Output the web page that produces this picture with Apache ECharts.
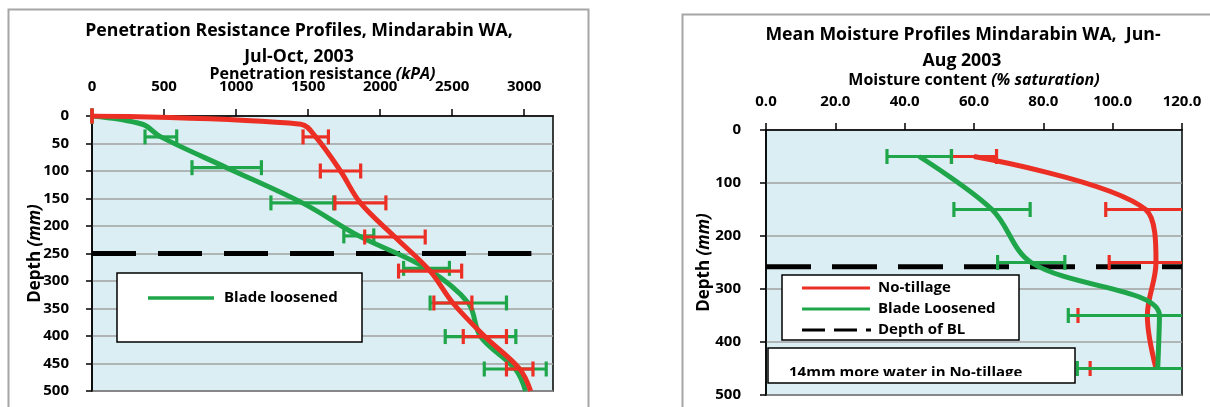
<!DOCTYPE html>
<html>
<head>
<meta charset="utf-8">
<script src="https://cdn.jsdelivr.net/npm/echarts@6/dist/echarts.min.js"></script>
<style>
  html, body { margin: 0; padding: 0; background: #fff; }
  #chart { width: 1210px; height: 407px; }
</style>
</head>
<body>
<div id="chart"></div>
<script>
// penetration resistance (kPa), depth in mm
let prDepthNT = [0, 38, 100, 158, 220, 282, 340, 401, 460]
let prMeanNT = [0, 1553, 1725, 1863, 2103, 2347, 2505, 2727, 2969]
let prErrNT = [0, 88, 140, 177, 210, 219, 132, 150, 92]
// points on the curve that have no error bar
let prLineDepthNT = [15, 500]
let prLineValNT = [1450, 3045]

let prDepthBL = [0, 38, 94, 158, 218, 277, 340, 401, 460]
let prMeanBL = [0, 478, 935, 1460, 1852, 2322, 2612, 2697, 2938]
let prErrBL = [0, 110, 241, 218, 104, 159, 265, 245, 215]
let prLineDepthBL = [15, 500]
let prLineValBL = [350, 3010]

// moisture (% saturation)
let mcDepth = [50, 150, 250, 350, 450]
let mcMeanNT = [60, 109.5, 112.5, 110, 112.5]
let mcErrNT = [6.5, 11.5, 13.5, 20, 19]
let mcMeanBL = [44.2, 65.2, 76.5, 113.5, 113]
let mcErrBL = [9.3, 11, 9.7, 26.3, 23.2]

let bladeDepthPR = 250
let bladeDepthMC = 258

const RED = '#ec2f24'
const GREEN = '#20a64a'
const FONT = '"Open Sans"'

function linePoints(depths, vals, extraD, extraV) {
    let pts = depths.map((d, i) => [vals[i], d])
    extraD.forEach((d, i) => pts.push([extraV[i], d]))
    pts.sort((a, b) => a[1] - b[1])
    return pts
}

function errPoints(depths, vals, errs) {
    return depths.map((d, i) => [vals[i], d, errs[i]])
}

// error bar: horizontal whisker with end caps, cut at the plot edges
function errRender(color) {
    return function (params, api) {
        let m = api.value(0), d = api.value(1), e = api.value(2)
        let lo = api.coord([m - e, d])
        let hi = api.coord([m + e, d])
        let cs = params.coordSys
        let left = cs.x, right = cs.x + cs.width
        let h = 7.5
        let st = {stroke: color, lineWidth: 3.2}
        let x1 = Math.max(lo[0], left), x2 = Math.min(hi[0], right)
        let kids = [{type: 'line', shape: {x1: x1, y1: lo[1], x2: x2, y2: hi[1]}, style: st}]
        if (lo[0] >= left) kids.push({type: 'line', shape: {x1: lo[0], y1: lo[1] - h, x2: lo[0], y2: lo[1] + h}, style: st})
        if (hi[0] <= right) kids.push({type: 'line', shape: {x1: hi[0], y1: hi[1] - h, x2: hi[0], y2: hi[1] + h}, style: st})
        return {type: 'group', children: kids}
    }
}

const labelStyle = {fontFamily: FONT, fontWeight: 'bold', fontSize: 15, color: '#000'}
const nameRich = {
    a: {fontFamily: FONT, fontWeight: 'bold', fontSize: 16, color: '#000'},
    b: {fontFamily: FONT, fontWeight: 'bold', fontStyle: 'italic', fontSize: 16, color: '#000'}
}

function xAxisOpt(idx, max, interval, name, gap, margin, fmt) {
    return {
        gridIndex: idx, type: 'value', position: 'top', min: 0, max: max, interval: interval,
        name: name, nameLocation: 'middle', nameGap: gap, nameMoveOverlap: false,
        nameTextStyle: {rich: nameRich},
        axisLine: {show: true, lineStyle: {color: '#000', width: 1.5}},
        axisTick: {show: true, inside: false, length: 7, lineStyle: {color: '#000', width: 1.5}},
        axisLabel: Object.assign({margin: margin, showMaxLabel: idx === 1, formatter: fmt}, labelStyle),
        splitLine: {show: false}
    }
}

function yAxisOpt(idx, interval, gap, margin) {
    return {
        gridIndex: idx, type: 'value', inverse: true, min: 0, max: 500, interval: interval,
        name: '{a|Depth }{b|(mm)}', nameLocation: 'middle', nameGap: gap, nameRotate: 90, nameMoveOverlap: false,
        nameTextStyle: {rich: {
            a: {fontFamily: FONT, fontWeight: 'bold', fontSize: 17, color: '#000'},
            b: {fontFamily: FONT, fontWeight: 'bold', fontStyle: 'italic', fontSize: 17, color: '#000'}
        }},
        axisLine: {show: true, lineStyle: {color: '#000', width: 1.5}},
        axisTick: {show: true, inside: false, length: 6, lineStyle: {color: '#000', width: 1.5}},
        axisLabel: Object.assign({margin: margin}, labelStyle),
        splitLine: {show: true, lineStyle: {color: '#a0a0a0', width: 1.5}}
    }
}

let chart = echarts.init(document.getElementById('chart'), null, {renderer: 'canvas'})

let option = {
    animation: false,
    backgroundColor: '#fff',
    grid: [
        {left: 92, top: 116, width: 461, height: 275, show: true, backgroundColor: '#daeef3', borderColor: '#000', borderWidth: 1.5},
        {left: 766, top: 130, width: 416, height: 265, show: true, backgroundColor: '#daeef3', borderColor: '#000', borderWidth: 1.5}
    ],
    xAxis: [
        xAxisOpt(0, 3200, 500, '{a|Penetration resistance }{b|(kPA)}', 34, 22, v => String(v)),
        xAxisOpt(1, 120, 20, '{a|Moisture content }{b|(% saturation)}', 42, 21, v => v.toFixed(1))
    ],
    yAxis: [
        yAxisOpt(0, 50, 48, 23),
        yAxisOpt(1, 100, 53, 25)
    ],
    series: [
        // left chart
        {
            type: 'line', xAxisIndex: 0, yAxisIndex: 0, symbol: 'none', silent: true,
            data: [[0, bladeDepthPR], [3050, bladeDepthPR]],
            lineStyle: {color: '#000', width: 5, type: [44, 22]}, z: 3
        },
        {
            name: 'Blade loosened', type: 'line', xAxisIndex: 0, yAxisIndex: 0, symbol: 'none', smooth: 0.35,
            data: linePoints(prDepthBL, prMeanBL, prLineDepthBL, prLineValBL),
            lineStyle: {color: GREEN, width: 5}, z: 4
        },
        {
            type: 'custom', xAxisIndex: 0, yAxisIndex: 0, renderItem: errRender(GREEN),
            encode: {x: 0, y: 1}, data: errPoints(prDepthBL, prMeanBL, prErrBL), z: 5
        },
        {
            name: 'No-tillage', type: 'line', xAxisIndex: 0, yAxisIndex: 0, symbol: 'none', smooth: 0.35,
            data: linePoints(prDepthNT, prMeanNT, prLineDepthNT, prLineValNT),
            lineStyle: {color: RED, width: 5}, z: 6
        },
        {
            type: 'custom', xAxisIndex: 0, yAxisIndex: 0, renderItem: errRender(RED),
            encode: {x: 0, y: 1}, data: errPoints(prDepthNT, prMeanNT, prErrNT), z: 7
        },
        // right chart
        {
            type: 'line', xAxisIndex: 1, yAxisIndex: 1, symbol: 'none', silent: true,
            data: [[0, bladeDepthMC], [120, bladeDepthMC]],
            lineStyle: {color: '#000', width: 5, type: [45, 21]}, z: 3
        },
        {
            name: 'No-tillage', type: 'line', xAxisIndex: 1, yAxisIndex: 1, symbol: 'none', smooth: 0.35,
            data: linePoints(mcDepth, mcMeanNT, [], []),
            lineStyle: {color: RED, width: 5}, z: 4
        },
        {
            type: 'custom', xAxisIndex: 1, yAxisIndex: 1, renderItem: errRender(RED),
            encode: {x: 0, y: 1}, data: errPoints(mcDepth, mcMeanNT, mcErrNT), z: 5
        },
        {
            name: 'Blade Loosened', type: 'line', xAxisIndex: 1, yAxisIndex: 1, symbol: 'none', smooth: 0.35,
            data: linePoints(mcDepth, mcMeanBL, [], []),
            lineStyle: {color: GREEN, width: 5}, z: 6
        },
        {
            type: 'custom', xAxisIndex: 1, yAxisIndex: 1, renderItem: errRender(GREEN),
            encode: {x: 0, y: 1}, data: errPoints(mcDepth, mcMeanBL, mcErrBL), z: 7
        }
    ],
    graphic: {
        elements: [
            // chart frames
            {type: 'rect', z: -10, shape: {x: 8.5, y: 9.5, width: 580, height: 430}, style: {fill: '#fff', stroke: '#a6a6a6', lineWidth: 2}},
            {type: 'rect', z: -10, shape: {x: 682.5, y: 14.5, width: 600, height: 430}, style: {fill: '#fff', stroke: '#a6a6a6', lineWidth: 2}},
            // titles
            {type: 'text', z: 100, x: 299, y: 31, style: {text: 'Penetration Resistance Profiles, Mindarabin WA,', font: 'bold 17.7px ' + FONT, fill: '#000', align: 'center', verticalAlign: 'middle'}},
            {type: 'text', z: 100, x: 299, y: 57, style: {text: 'Jul-Oct, 2003', font: 'bold 17.7px ' + FONT, fill: '#000', align: 'center', verticalAlign: 'middle'}},
            {type: 'text', z: 100, x: 963, y: 35, style: {text: 'Mean Moisture Profiles Mindarabin WA,  Jun-', font: 'bold 17.7px ' + FONT, fill: '#000', align: 'center', verticalAlign: 'middle'}},
            {type: 'text', z: 100, x: 962, y: 61, style: {text: 'Aug 2003', font: 'bold 17.7px ' + FONT, fill: '#000', align: 'center', verticalAlign: 'middle'}},
            // left legend
            {type: 'rect', z: 100, shape: {x: 117, y: 273, width: 245, height: 69}, style: {fill: '#fff', stroke: '#000', lineWidth: 1.5}},
            {type: 'line', z: 101, shape: {x1: 148, y1: 298, x2: 214, y2: 298}, style: {stroke: GREEN, lineWidth: 3.5}},
            {type: 'text', z: 101, x: 224, y: 298, style: {text: 'Blade loosened', font: 'bold 15px ' + FONT, fill: '#000', align: 'left', verticalAlign: 'middle'}},
            // right legend
            {type: 'rect', z: 100, shape: {x: 782, y: 275, width: 237, height: 65}, style: {fill: '#fff', stroke: '#000', lineWidth: 1.5}},
            {type: 'line', z: 101, shape: {x1: 802, y1: 288, x2: 870, y2: 288}, style: {stroke: RED, lineWidth: 3}},
            {type: 'text', z: 101, x: 878, y: 288, style: {text: 'No-tillage', font: 'bold 15px ' + FONT, fill: '#000', align: 'left', verticalAlign: 'middle'}},
            {type: 'line', z: 101, shape: {x1: 802, y1: 309, x2: 870, y2: 309}, style: {stroke: GREEN, lineWidth: 3}},
            {type: 'text', z: 101, x: 878, y: 309, style: {text: 'Blade Loosened', font: 'bold 15px ' + FONT, fill: '#000', align: 'left', verticalAlign: 'middle'}},
            {type: 'line', z: 101, shape: {x1: 802, y1: 330, x2: 871, y2: 330}, style: {stroke: '#000', lineWidth: 3, lineDash: [23, 9]}},
            {type: 'text', z: 101, x: 878, y: 330, style: {text: 'Depth of BL', font: 'bold 15px ' + FONT, fill: '#000', align: 'left', verticalAlign: 'middle'}},
            // note box, text cut off at the bottom like the original
            {type: 'rect', z: 100, shape: {x: 768, y: 348, width: 307, height: 35}, style: {fill: '#fff', stroke: '#000', lineWidth: 1.5}},
            {type: 'text', z: 101, x: 789, y: 373, style: {text: '14mm more water in No-tillage', font: 'bold 15px ' + FONT, fill: '#000', align: 'left', verticalAlign: 'middle'}},
            {type: 'rect', z: 102, shape: {x: 769, y: 376, width: 305, height: 6}, style: {fill: '#fff'}}
        ]
    }
}

chart.setOption(option)
</script>
</body>
</html>
